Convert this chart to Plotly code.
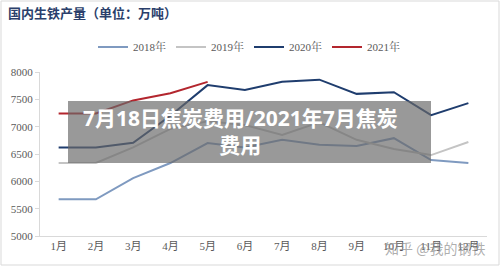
import plotly.graph_objects as go

months = ["1月", "2月", "3月", "4月", "5月", "6月", "7月", "8月", "9月", "10月", "11月", "12月"]
y2018 = [5670, 5670, 6060, 6335, 6700, 6620, 6760, 6670, 6645, 6790, 6390, 6335]
y2019 = [6335, 6335, 6620, 6960, 7100, 7030, 6850, 7080, 6760, 6590, 6480, 6720]
y2020 = [6620, 6620, 6705, 7200, 7760, 7670, 7820, 7860, 7600, 7630, 7210, 7430]
y2021 = [7240, 7240, 7480, 7610, 7820]
series = [("2018年", y2018, "#7F9AC0"), ("2019年", y2019, "#C4C4C4"),
          ("2020年", y2020, "#1F3D6E"), ("2021年", y2021, "#B3262E")]

W, H = 500, 266
L, R, T, B = 40, 13, 72, 30
pw, ph = W - L - R, H - T - B

def px(x):
    return (x - L) / pw

def py(y):
    return (H - B - y) / ph

fig = go.Figure()
for name, vals, col in series:
    fig.add_trace(go.Scatter(x=months[:len(vals)], y=vals, name=name, mode="lines",
                             line=dict(color=col, width=2)))

fig.update_layout(
    width=W, height=H, margin=dict(l=L, r=R, t=T, b=B),
    paper_bgcolor="white", plot_bgcolor="white",
    title=dict(text="<b>国内生铁产量（单位：万吨）</b>", x=8 / W, xanchor="left",
               y=1 - 13 / H, yanchor="middle",
               font=dict(family="Noto Sans CJK SC", size=13, color="#2B3F6B")),
    showlegend=True,
    legend=dict(orientation="h", x=px(93), xanchor="left", y=py(47), yanchor="middle",
                font=dict(family="Liberation Serif, Noto Serif CJK SC, Noto Sans CJK SC", size=11, color="#595959"),
                bgcolor="rgba(0,0,0,0)", itemwidth=30),
    xaxis=dict(type="category", range=[-0.5, 11.5], showline=True, linecolor="#D9D9D9",
               linewidth=1, ticks="", showgrid=False, zeroline=False,
               tickfont=dict(family="Liberation Serif, Noto Sans CJK SC", size=11, color="#595959")),
    yaxis=dict(range=[5000, 8000], dtick=500, showline=True, linecolor="#D9D9D9", linewidth=1,
               ticks="outside", ticklen=4, tickcolor="#D9D9D9", showgrid=False, zeroline=False,
               tickfont=dict(family="Liberation Serif", size=11, color="#595959")),
)

# outer frame
fig.add_shape(type="rect", xref="paper", yref="paper",
              x0=px(1), x1=px(499), y0=py(265), y1=py(1),
              line=dict(color="#D9D9D9", width=1), fillcolor="rgba(0,0,0,0)", layer="below")
# overlay box
fig.add_shape(type="rect", xref="paper", yref="paper",
              x0=px(68), x1=px(431), y0=py(163), y1=py(101),
              line=dict(width=0), fillcolor="rgba(105,105,105,0.68)", layer="above")
fig.add_annotation(xref="paper", yref="paper", x=px(240), y=py(131), xanchor="center", yanchor="middle",
                   text="<b>7月18日焦炭费用/2021年7月焦炭<br>费用</b>", showarrow=False,
                   font=dict(family="Open Sans, Noto Sans CJK SC", size=21, color="white"))
# watermark
fig.add_annotation(xref="paper", yref="paper", x=px(487), y=py(248), xanchor="right", yanchor="middle",
                   text="知乎 @我的钢铁", showarrow=False,
                   font=dict(family="Noto Sans CJK SC", size=14, color="rgba(140,140,140,0.7)"))

fig.write_html("out.html")
